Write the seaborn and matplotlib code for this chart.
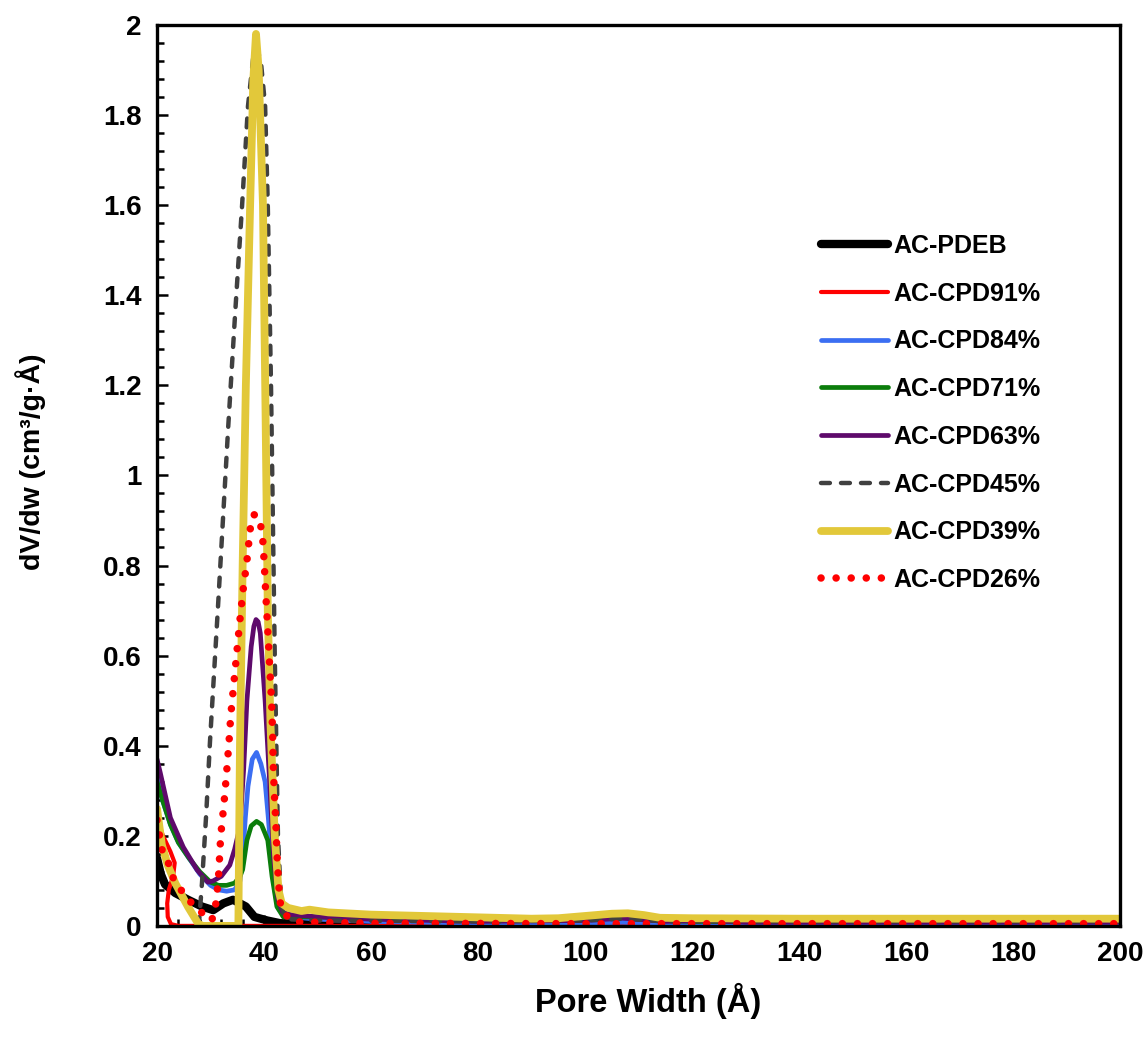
import matplotlib
matplotlib.use("Agg")
import matplotlib.pyplot as plt
import seaborn as sns
from matplotlib.ticker import MultipleLocator, FuncFormatter

sns.set_style("ticks")
plt.rcParams['font.family'] = ['Liberation Sans', 'DejaVu Sans']
plt.rcParams['font.weight'] = 'bold'
plt.rcParams['text.color'] = 'black'
plt.rcParams['axes.labelcolor'] = 'black'
plt.rcParams['xtick.color'] = 'black'
plt.rcParams['ytick.color'] = 'black'

# pore size distributions (x = pore width in A, y = dV/dw)
pdeb_x = [20, 20.7, 21.5, 23.4, 25.8, 28.4, 30.5, 32.4, 34.2, 35.5, 36.6, 38.2, 40.6, 43, 50, 80, 120, 200]
pdeb_y = [0.15, 0.115, 0.092, 0.073, 0.058, 0.043, 0.035, 0.05, 0.058, 0.05, 0.043, 0.02, 0.012, 0.006, 0.004, 0.003, 0.003, 0.003]

cpd91_x = [20, 21.1, 22.5, 23.3, 23.0, 22.2, 21.9, 22.0, 22.6, 24, 60, 200]
cpd91_y = [0.24, 0.2, 0.165, 0.14, 0.11, 0.08, 0.05, 0.02, 0.004, 0.0, 0.0, 0.0]

cpd84_x = [20, 21, 22.5, 24, 26, 28, 30, 31.5, 33, 34.5, 35.5, 36.0, 36.5, 37.0, 37.8, 38.6, 39.4,
           40.2, 40.8, 41.4, 42.0, 42.6, 43.5, 45, 50, 60, 80, 100, 107, 115, 200]
cpd84_y = [0.33, 0.28, 0.225, 0.185, 0.15, 0.115, 0.09, 0.08, 0.077, 0.08, 0.1, 0.15, 0.24, 0.31, 0.37, 0.385, 0.36,
           0.32, 0.24, 0.15, 0.08, 0.04, 0.025, 0.02, 0.015, 0.01, 0.006, 0.006, 0.008, 0.005, 0.004]

cpd71_x = [20, 21, 22.5, 24, 26, 28, 30, 31.5, 33, 34.5, 35.5, 36.0, 36.8, 37.6, 38.6, 39.5, 40.2, 40.7,
           41.5, 42.4, 43.6, 45, 50, 60, 80, 95, 100, 107, 113, 120, 200]
cpd71_y = [0.32, 0.28, 0.225, 0.185, 0.15, 0.12, 0.097, 0.09, 0.09, 0.095, 0.11, 0.125, 0.19, 0.222, 0.232, 0.225, 0.205, 0.19,
           0.11, 0.043, 0.02, 0.02, 0.02, 0.016, 0.012, 0.012, 0.015, 0.02, 0.013, 0.01, 0.01]

cpd63_x = [20, 20.6, 22.5, 24.9, 27.5, 29.5, 30.5, 32, 33.6, 34.5, 35.5, 36.2, 36.8, 37.6, 38.1, 38.5, 38.9, 39.3,
           40.2, 41, 41.8, 42.6, 43.5, 45, 50, 60, 80, 100, 107, 115, 123, 130, 200]
cpd63_y = [0.37, 0.34, 0.24, 0.175, 0.124, 0.097, 0.1, 0.11, 0.135, 0.17, 0.22, 0.35, 0.5, 0.62, 0.665, 0.68, 0.675, 0.65,
           0.5, 0.33, 0.15, 0.06, 0.03, 0.025, 0.02, 0.015, 0.01, 0.012, 0.017, 0.01, 0.012, 0.008, 0.008]

cpd45_x = [27.8, 28.4, 29.2, 29.9, 31.4, 33.3, 34.6, 35.9, 37.0, 38.0, 38.6, 39.4, 40.2, 40.7, 41.3,
           42.0, 42.6, 43.2, 44, 50, 80, 100, 107, 115, 200]
cpd45_y = [0.0, 0.095, 0.25, 0.41, 0.71, 1.107, 1.36, 1.6, 1.82, 1.93, 1.95, 1.92, 1.82, 1.6, 1.2,
           0.6, 0.2, 0.05, 0.015, 0.012, 0.01, 0.012, 0.016, 0.01, 0.01]

cpd39_x = [20, 20.9, 22, 23.4, 25.8, 27.7, 28.5, 35.2, 35.5, 36.0, 36.6, 37.4, 38.0, 38.5, 39.0, 39.8,
           40.3, 40.7, 41.2, 42.0, 42.7, 43.3, 44.5, 47, 48.5, 52, 60, 70, 80, 90, 95, 100, 105, 108,
           111, 114, 120, 140, 200]
cpd39_y = [0.26, 0.18, 0.135, 0.095, 0.042, 0.005, 0.0, 0.0, 0.4, 0.8, 1.2, 1.6, 1.88, 1.98, 1.9, 1.6,
           1.12, 0.7, 0.45, 0.2, 0.08, 0.05, 0.04, 0.033, 0.036, 0.03, 0.025, 0.022, 0.019, 0.016, 0.017, 0.022, 0.027, 0.028,
           0.024, 0.018, 0.017, 0.016, 0.016]

cpd26_x = [20, 20.9, 22.1, 23, 24.7, 26.5, 28.4, 29.5, 30.3, 31.0, 31.46, 31.9, 32.5, 33.0, 33.46, 33.8,
           35.5, 36.1, 36.8, 37.4, 38.1, 39.1, 39.6, 39.9, 40.0, 40.2, 40.3, 40.5, 41.4, 41.6, 41.7,
           41.9, 42.2, 42.4, 42.7, 43.0, 43.6, 45.5, 60, 100, 200]
cpd26_y = [0.235, 0.17, 0.14, 0.107, 0.076, 0.05, 0.029, 0.012, 0.015, 0.05, 0.102, 0.2, 0.27, 0.34, 0.41, 0.47,
           0.68, 0.747, 0.81, 0.88, 0.913, 0.907, 0.873, 0.84, 0.807, 0.77, 0.74, 0.70, 0.5, 0.43, 0.365,
           0.3, 0.23, 0.164, 0.098, 0.053, 0.029, 0.009, 0.006, 0.005, 0.005]

series = [
    ("AC-PDEB", pdeb_x, pdeb_y, "black", 6.0, "-"),
    ("AC-CPD91%", cpd91_x, cpd91_y, "#FF0000", 3.0, "-"),
    ("AC-CPD84%", cpd84_x, cpd84_y, "#3B6EF2", 3.4, "-"),
    ("AC-CPD71%", cpd71_x, cpd71_y, "#0B7D0B", 3.4, "-"),
    ("AC-CPD63%", cpd63_x, cpd63_y, "#5E0A6B", 3.4, "-"),
    ("AC-CPD45%", cpd45_x, cpd45_y, "#404040", 3.2, (0, (2.0, 2.5))),
    ("AC-CPD39%", cpd39_x, cpd39_y, "#E2C83A", 5.6, "-"),
    ("AC-CPD26%", cpd26_x, cpd26_y, "#FF0000", 5.4, (0, (0.01, 2.0))),
]

fig, ax = plt.subplots(figsize=(11.48, 10.38), dpi=100)
fig.subplots_adjust(left=0.1368, right=0.9756, top=0.976, bottom=0.108)

for name, xs, ys, col, lw, ls in series:
    sns.lineplot(x=xs, y=ys, ax=ax, color=col, lw=lw, linestyle=ls, sort=False,
                 estimator=None, label=name, solid_capstyle="round", dash_capstyle="round",
                 solid_joinstyle="round")

ax.set_xlim(20, 200)
ax.set_ylim(0, 2)
ax.xaxis.set_major_locator(MultipleLocator(20))
ax.xaxis.set_minor_locator(MultipleLocator(4))
ax.yaxis.set_major_locator(MultipleLocator(0.2))
ax.yaxis.set_minor_locator(MultipleLocator(0.04))
ax.yaxis.set_major_formatter(FuncFormatter(lambda v, p: f"{v:g}"))

ax.tick_params(which="both", direction="in", color="black", width=1.8)
ax.tick_params(which="major", length=8, labelsize=20, pad=11)
ax.tick_params(which="minor", length=5)
for lab in ax.get_xticklabels() + ax.get_yticklabels():
    lab.set_fontweight("bold")

for sp in ax.spines.values():
    sp.set_visible(True)
    sp.set_color("black")
    sp.set_linewidth(2.4)

ax.set_xlabel("Pore Width (Å)", fontsize=23.5, fontweight="bold")
ax.set_ylabel("dV/dw (cm³/g·Å)", fontsize=20.5, fontweight="bold")
ax.xaxis.set_label_coords(0.51, -0.063)
ax.yaxis.set_label_coords(-0.115, 0.515)

ax.legend(loc="upper left", bbox_to_anchor=(0.689, 0.768), frameon=False,
          handlelength=2.7, handletextpad=0.2, labelspacing=0.95, borderpad=0, borderaxespad=0,
          prop={"weight": "bold", "size": 18})

fig.savefig("out.png", dpi=100)
